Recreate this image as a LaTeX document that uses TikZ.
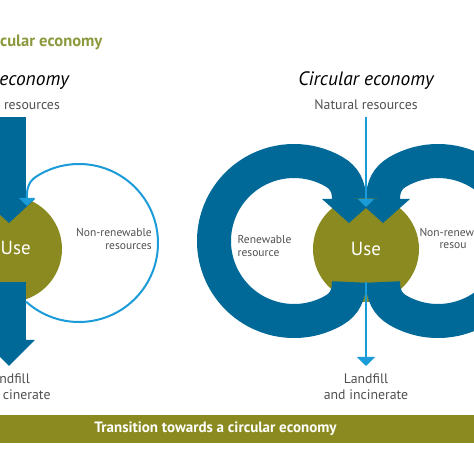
\documentclass[tikz,border=0pt]{standalone}
\usepackage{fontspec}
\setmainfont{PT Sans}
\usetikzlibrary{arrows.meta}
\definecolor{ringblue}{RGB}{0,105,152}
\definecolor{thinblue}{RGB}{27,155,215}
\definecolor{useolive}{RGB}{138,138,32}
\definecolor{headolive}{RGB}{140,152,60}
\definecolor{labelgray}{RGB}{80,80,80}
\tikzset{
  flow/.style={line width=34pt, ringblue},
  flowhead/.style={fill=ringblue},
  thinflow/.style={line width=2pt, thinblue, -{Triangle[width=16pt,length=8pt]}},
  usecircle/.style={circle, fill=useolive, minimum size=106pt, inner sep=0pt,
    text=white, font=\fontsize{19}{19}\selectfont},
  graytext/.style={labelgray, inner sep=0pt, font=\fontsize{13.8}{15}\selectfont},
  smalltext/.style={labelgray, inner sep=0pt, font=\fontsize{11.5}{13}\selectfont},
  titletext/.style={inner sep=0pt, font=\fontsize{19.4}{21}\selectfont\itshape},
}
\begin{document}
\begin{tikzpicture}[x=1pt,y=1pt]
    \useasboundingbox (0,0) rectangle (474,474);
    \clip (0,0) rectangle (474,474);
    % Heading
    \node[headolive, inner sep=0pt, anchor=base west, font=\fontsize{16.5}{18}\selectfont\bfseries]
      (heading) at (0,427) {cular economy};
    % Linear economy (cut at the left edge)
    \node[titletext, anchor=base east] (linTitle) at (69,388) {economy};
    \node[graytext, anchor=base east] (linRes) at (60,364) {resources};
    \node[usecircle] (linUse) at (9,225) {};
    \node[inner sep=0pt, text=white, font=\fontsize{19}{19}\selectfont, anchor=base west]
      (linUseText) at (0.5,219) {Use};
    \draw[flow] (9,357) -- (9,275);
    \fill[flowhead] (-17,275) -- (35,275) -- (9,251) -- cycle;
    \draw[flow] (9,192) -- (9,134);
    \fill[flowhead] (-17,134) -- (35,134) -- (9,108) -- cycle;
    \draw[thinflow] (79,231) ++(-132:79) arc[start angle=-132, end angle=123, radius=79]
      to[out=213,in=90] (27,268);
    \node[smalltext, anchor=base east] (linNon1) at (152,237.3) {Non-renewable};
    \node[smalltext, anchor=base east] (linNon2) at (152,224) {resources};
    \node[graytext, anchor=base east] (linLand1) at (30,90) {ndfill};
    \node[graytext, anchor=base east] (linLand2) at (50.7,74.7) {cinerate};
    % Circular economy
    \node[titletext, anchor=base] (circTitle) at (366,388) {Circular economy};
    \node[graytext, anchor=base] (natRes) at (366,364) {Natural resources};
    \node[usecircle] (circUse) at (366,225) {Use};
    % Renewable loop
    \draw[flow] (349,192) to[out=-90,in=30] (334,163.72)
      arc[start angle=-60, end angle=-300, radius=80] to[out=-30,in=90] (349,275);
    \fill[flowhead] (322,275) -- (376,275) -- (349,251) -- cycle;
    % Non-renewable loop
    \draw[flow] (383,192) to[out=-90,in=150] (398,163.72)
      arc[start angle=-120, end angle=120, radius=80] to[out=210,in=90] (383,275);
    \fill[flowhead] (356,275) -- (410,275) -- (383,251) -- cycle;
    \node[smalltext, anchor=base west] (renew1) at (237.5,230) {Renewable};
    \node[smalltext, anchor=base west] (renew2) at (237.5,217.3) {resource};
    \node[smalltext, anchor=base west] (circNon1) at (419.3,237.3) {Non-renew};
    \node[smalltext, anchor=base west] (circNon2) at (439.3,225.3) {resou};
    % Thin flows through Use
    \coordinate (useIn) at (366,267);
    \coordinate (useOut) at (366,192);
    \coordinate (wasteIn) at (366,108);
    \draw[thinflow] ([yshift=-7pt]natRes.south) -- (useIn);
    \draw[thinflow, -{Triangle[width=18pt,length=9pt]}] (useOut) -- (wasteIn);
    \node[graytext, anchor=base] (land1) at (366,90) {Landfill};
    \node[graytext, anchor=base] (land2) at (366,74.7) {and incinerate};
    % Transition band
    \fill[useolive] (0,31.3) rectangle (474,59);
    \node[white, inner sep=0pt, anchor=base, font=\fontsize{15}{16}\selectfont\bfseries]
      (band) at (215.5,41.7) {Transition towards a circular economy};
\end{tikzpicture}
\end{document}
